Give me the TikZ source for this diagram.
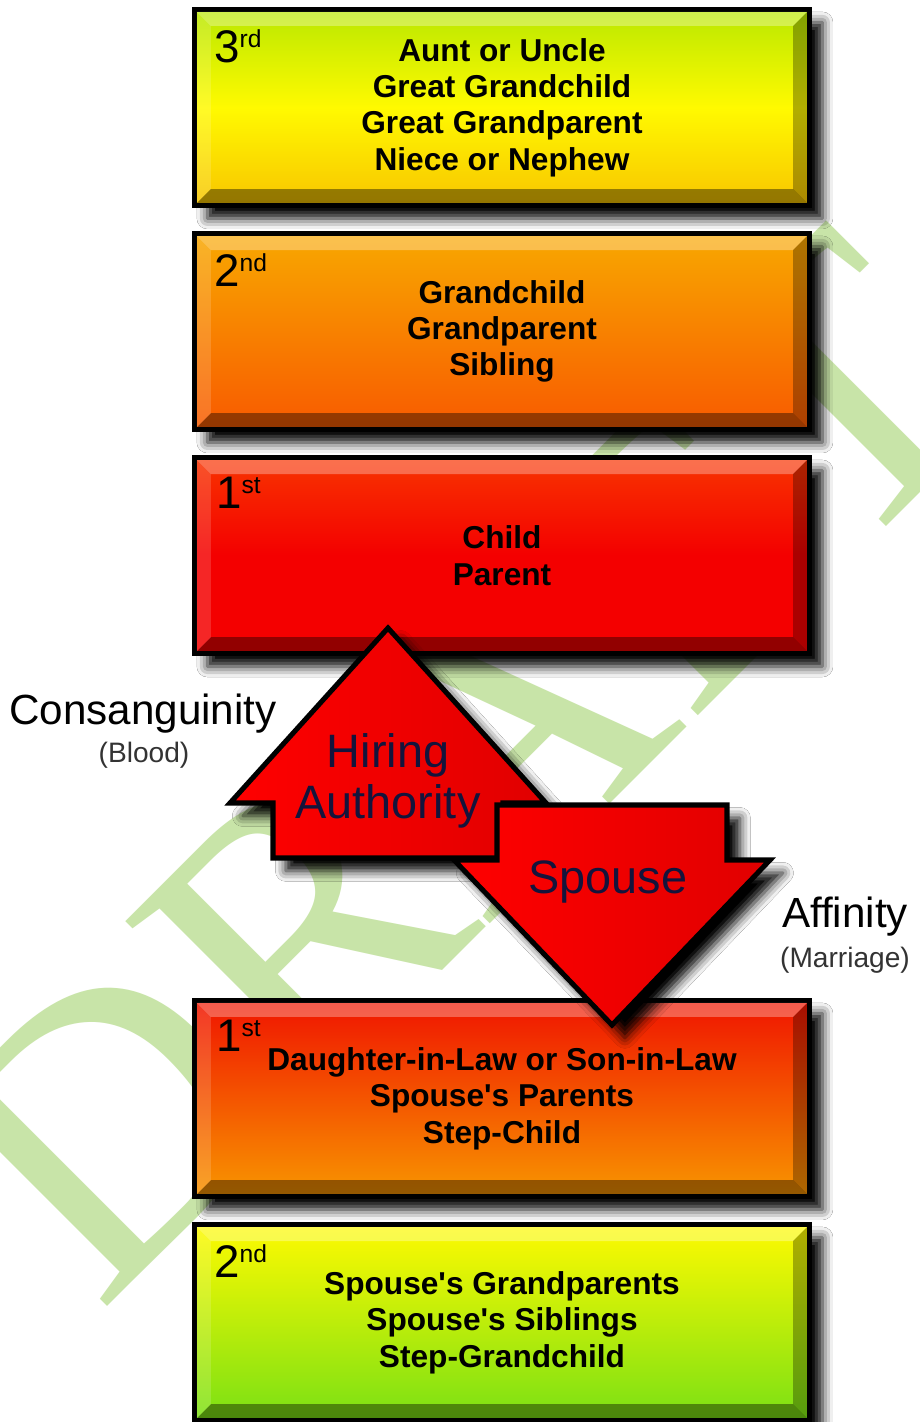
\documentclass[tikz,border=0pt]{standalone}
\usepackage{fontspec}
\setmainfont{Liberation Sans}
\newfontfamily\draftfont{Liberation Serif}
\usetikzlibrary{positioning,calc,shadows.blur}

\definecolor{draftgreen}{RGB}{200,228,168}
\definecolor{limeyellow}{RGB}{185,232,0}
\definecolor{pureyellow}{RGB}{255,250,0}
\definecolor{goldyellow}{RGB}{248,196,0}
\definecolor{amber}{RGB}{248,168,0}
\definecolor{darkorange}{RGB}{248,90,0}
\definecolor{redorange}{RGB}{248,52,0}
\definecolor{brightred}{RGB}{244,0,0}
\definecolor{lightorange}{RGB}{248,150,0}
\definecolor{leafgreen}{RGB}{122,224,20}
\definecolor{arrowred}{RGB}{255,0,0}
\definecolor{navytext}{RGB}{20,20,60}

% bevelled edges inside a degree box
\newcommand{\bevelbox}[1]{
  \path ([shift={(5,5)}]#1.north west) coordinate (#1o1)
        ([shift={(-5,5)}]#1.north east) coordinate (#1o2)
        ([shift={(-5,-5)}]#1.south east) coordinate (#1o3)
        ([shift={(5,-5)}]#1.south west) coordinate (#1o4);
  \path ([shift={(14,14)}]#1o1) coordinate (#1i1)
        ([shift={(-14,14)}]#1o2) coordinate (#1i2)
        ([shift={(-14,-14)}]#1o3) coordinate (#1i3)
        ([shift={(14,-14)}]#1o4) coordinate (#1i4);
  \fill[white, opacity=.30] (#1o1) -- (#1o2) -- (#1i2) -- (#1i1) -- cycle;
  \fill[black, opacity=.30] (#1o2) -- (#1o3) -- (#1i3) -- (#1i2) -- cycle;
  \fill[black, opacity=.40] (#1o3) -- (#1o4) -- (#1i4) -- (#1i3) -- cycle;
  \fill[white, opacity=.15] (#1o4) -- (#1o1) -- (#1i1) -- (#1i4) -- cycle;
}

\tikzset{
  darkshadow/.style={blur shadow={shadow xshift=11pt, shadow yshift=-11pt, shadow blur radius=9pt, shadow opacity=100}},
  degbox/.style={draw=black, line width=4.3pt, minimum width=18.45cm, minimum height=5.88cm,
    align=center, font=\bfseries\fontsize{27}{31}\selectfont, darkshadow},
  deglabel/.style={anchor=north west, inner sep=0pt, font=\fontsize{39}{39}\selectfont},
  bigarrow/.style={draw=black, line width=4.3pt, line join=miter, left color=arrowred, right color=arrowred!88!black, darkshadow},
  arrowtext/.style={align=center, font=\fontsize{40}{44}\selectfont, text=navytext},
  sidelabel/.style={inner sep=0pt, font=\fontsize{36}{36}\selectfont},
  sublabel/.style={inner sep=0pt, text=black!80, font=\fontsize{24}{24}\selectfont},
  draftmark/.style={rotate=45, inner sep=0pt, text=draftgreen, font=\draftfont\fontsize{337}{337}\selectfont}
}

\newcommand{\degnum}[2]{#1\raisebox{13pt}{\fontsize{21}{21}\selectfont #2}}

\begin{document}
\begin{tikzpicture}[x=0.03cm, y=-0.03cm]
    \path[use as bounding box, fill=white] (0,0) rectangle (919,1422);

    % Watermark
    \node[draftmark] (draft) at (465,765) {DRAFT};

    % Consanguinity boxes
    \node[degbox, top color=limeyellow, bottom color=goldyellow, middle color=pureyellow] (b3rd) at (502,107.5)
        {Aunt or Uncle\\Great Grandchild\\Great Grandparent\\Niece or Nephew};
    \node[degbox, top color=amber, bottom color=darkorange, below=0.69cm of b3rd] (b2nd)
        {Grandchild\\Grandparent\\Sibling};
    \node[degbox, top color=redorange, bottom color=brightred, middle color=brightred, below=0.69cm of b2nd] (b1st)
        {Child\\Parent};

    % Affinity boxes
    \node[degbox, top color={rgb,255:red,240;green,20;blue,0}, bottom color=lightorange] (a1st) at (502,1098.5)
        {Daughter-in-Law or Son-in-Law\\Spouse\textquotesingle s Parents\\Step-Child};
    \node[degbox, top color=pureyellow, bottom color=leafgreen, below=0.69cm of a1st] (a2nd)
        {Spouse\textquotesingle s Grandparents\\Spouse\textquotesingle s Siblings\\Step-Grandchild};

    \bevelbox{b3rd} \bevelbox{b2nd} \bevelbox{b1st} \bevelbox{a1st} \bevelbox{a2nd}

    % Degree numbers
    \node[deglabel] (l3rd) at ([shift={(22,22)}]b3rd.north west) {\degnum{3}{rd}};
    \node[deglabel] (l2nd) at ([shift={(22,22)}]b2nd.north west) {\degnum{2}{nd}};
    \node[deglabel] (l1st) at ([shift={(24,22)}]b1st.north west) {\degnum{1}{st}};
    \node[deglabel] (m1st) at ([shift={(24,22)}]a1st.north west) {\degnum{1}{st}};
    \node[deglabel] (m2nd) at ([shift={(22,22)}]a2nd.north west) {\degnum{2}{nd}};

    % Up and down arrows
    \draw[bigarrow] (388,628) -- (230,803) -- (273,803) -- (273,858) -- (503,858) -- (503,803) -- (546,803) -- cycle;
    \draw[bigarrow] (497,805) -- (727,805) -- (727,860) -- (770,860) -- (612,1025) -- (454,860) -- (497,860) -- cycle;
    \node[arrowtext] (hiring) at (388,781) {Hiring\\Authority};
    \node[arrowtext] (spouse) at (608,882) {Spouse};

    % Side labels
    \node[sidelabel] (blood) at (143,714) {Consanguinity};
    \node[sublabel] (bloodsub) at (144,755) {(Blood)};
    \node[sidelabel] (marriage) at (845,917) {Affinity};
    \node[sublabel] (marriagesub) at (845,960) {(Marriage)};
\end{tikzpicture}
\end{document}
